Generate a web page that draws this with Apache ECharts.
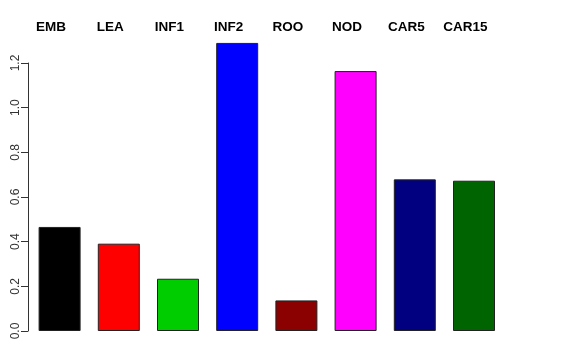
<!DOCTYPE html>
<html>
<head>
<meta charset="utf-8">
<script src="https://cdn.jsdelivr.net/npm/echarts@6/dist/echarts.min.js"></script>
<style>html,body{margin:0;padding:0;background:#fff}#c{width:576px;height:360px}</style>
</head>
<body>
<div id="c"></div>
<script>
var categories = ["EMB", "LEA", "INF1", "INF2", "ROO", "NOD", "CAR5", "CAR15"];
var values = [0.466, 0.391, 0.234, 1.290, 0.137, 1.164, 0.679, 0.673];
var barColors = ["#000000", "#FF0000", "#00CD00", "#0000FF", "#8B0000", "#FF00FF", "#000080", "#006400"];
var yTicks = [0, 0.2, 0.4, 0.6, 0.8, 1.0, 1.2];

var chart = echarts.init(document.getElementById('c'), null, {renderer: 'canvas'});
var font = 'Liberation Sans, Arial, Helvetica, sans-serif';
chart.setOption({
  animation: false,
  backgroundColor: '#ffffff',
  grid: [
    {left: 30, right: 72.4, top: 40.7, bottom: 29},
    {left: 30, right: 72.4, top: 63, bottom: 29}
  ],
  xAxis: [
    {type: 'category', gridIndex: 0, position: 'top', data: categories,
     axisLine: {show: false}, axisTick: {show: false},
     axisLabel: {interval: 0, margin: 6, fontFamily: font, fontWeight: 'bold', fontSize: 13.5, color: '#000', padding: [0, 17, 0, 0]}},
    {type: 'category', gridIndex: 1, data: categories, show: false}
  ],
  yAxis: [
    {type: 'value', gridIndex: 0, min: 0, max: 1.3, show: false, splitLine: {show: false}},
    {type: 'value', gridIndex: 1, min: yTicks[0], max: yTicks[yTicks.length - 1], interval: 0.2, offset: 2,
     axisLine: {show: true, lineStyle: {color: '#333', width: 1}},
     axisTick: {show: true, length: 7, lineStyle: {color: '#333'}},
     splitLine: {show: false},
     axisLabel: {rotate: 90, margin: 6, fontFamily: font, fontSize: 12, color: '#333',
       formatter: function (v) { return v.toFixed(1); }}}
  ],
  series: [{
    type: 'bar', xAxisIndex: 0, yAxisIndex: 0,
    barWidth: 42,
    data: values.map(function (v, i) {
      return {value: v, itemStyle: {color: barColors[i], borderColor: '#222', borderWidth: 1}};
    })
  }]
});
</script>
</body>
</html>
